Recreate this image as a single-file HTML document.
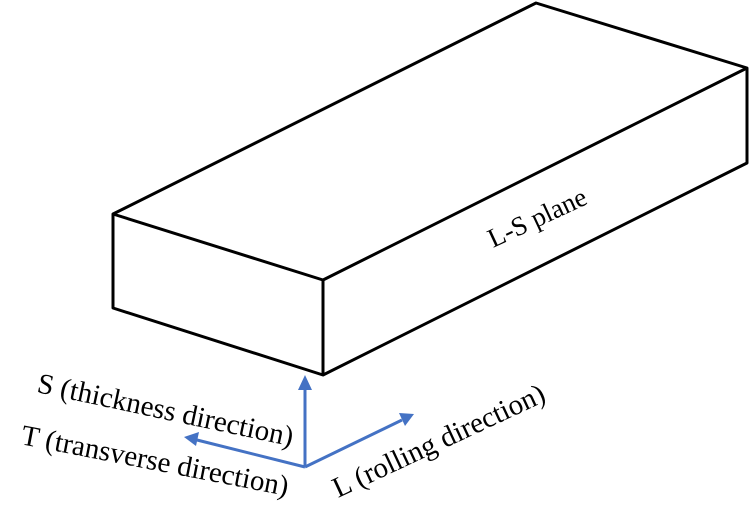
<!DOCTYPE html>
<html><head><style>body{margin:0;background:#fff}</style></head><body>
<svg width="754" height="511" viewBox="0 0 754 511" xmlns="http://www.w3.org/2000/svg" style="display:block">
<g fill="none" stroke="#000" stroke-width="3" stroke-linejoin="round">
<polygon points="113,214 536,3 747,68 747,163 323,375 113,308"/>
<polyline points="113,214 323,280 747,68"/>
<line x1="323" y1="280" x2="323" y2="375"/>
</g>
<g stroke="#4472c4" stroke-width="3" fill="#4472c4">
<line x1="305" y1="467" x2="305" y2="388"/>
<polygon points="305,375 298,390 312,390" stroke="none"/>
<line x1="305" y1="467" x2="197" y2="440"/>
<polygon points="184,437 199,432 196,446" stroke="none"/>
<line x1="305" y1="467" x2="402" y2="420"/>
<polygon points="414,414 399,413 405,426" stroke="none"/>
</g>
<g font-family="Liberation Serif, serif" font-size="29" fill="#000">
<text transform="translate(36,392) rotate(12)">S (thickness direction)</text>
<text transform="translate(20,444) rotate(11)">T (transverse direction)</text>
<text transform="translate(338,498) rotate(-25)">L (rolling direction)</text>
<text transform="translate(493,248) rotate(-25)" font-size="27">L-S plane</text>
</g>
</svg>
</body></html>
